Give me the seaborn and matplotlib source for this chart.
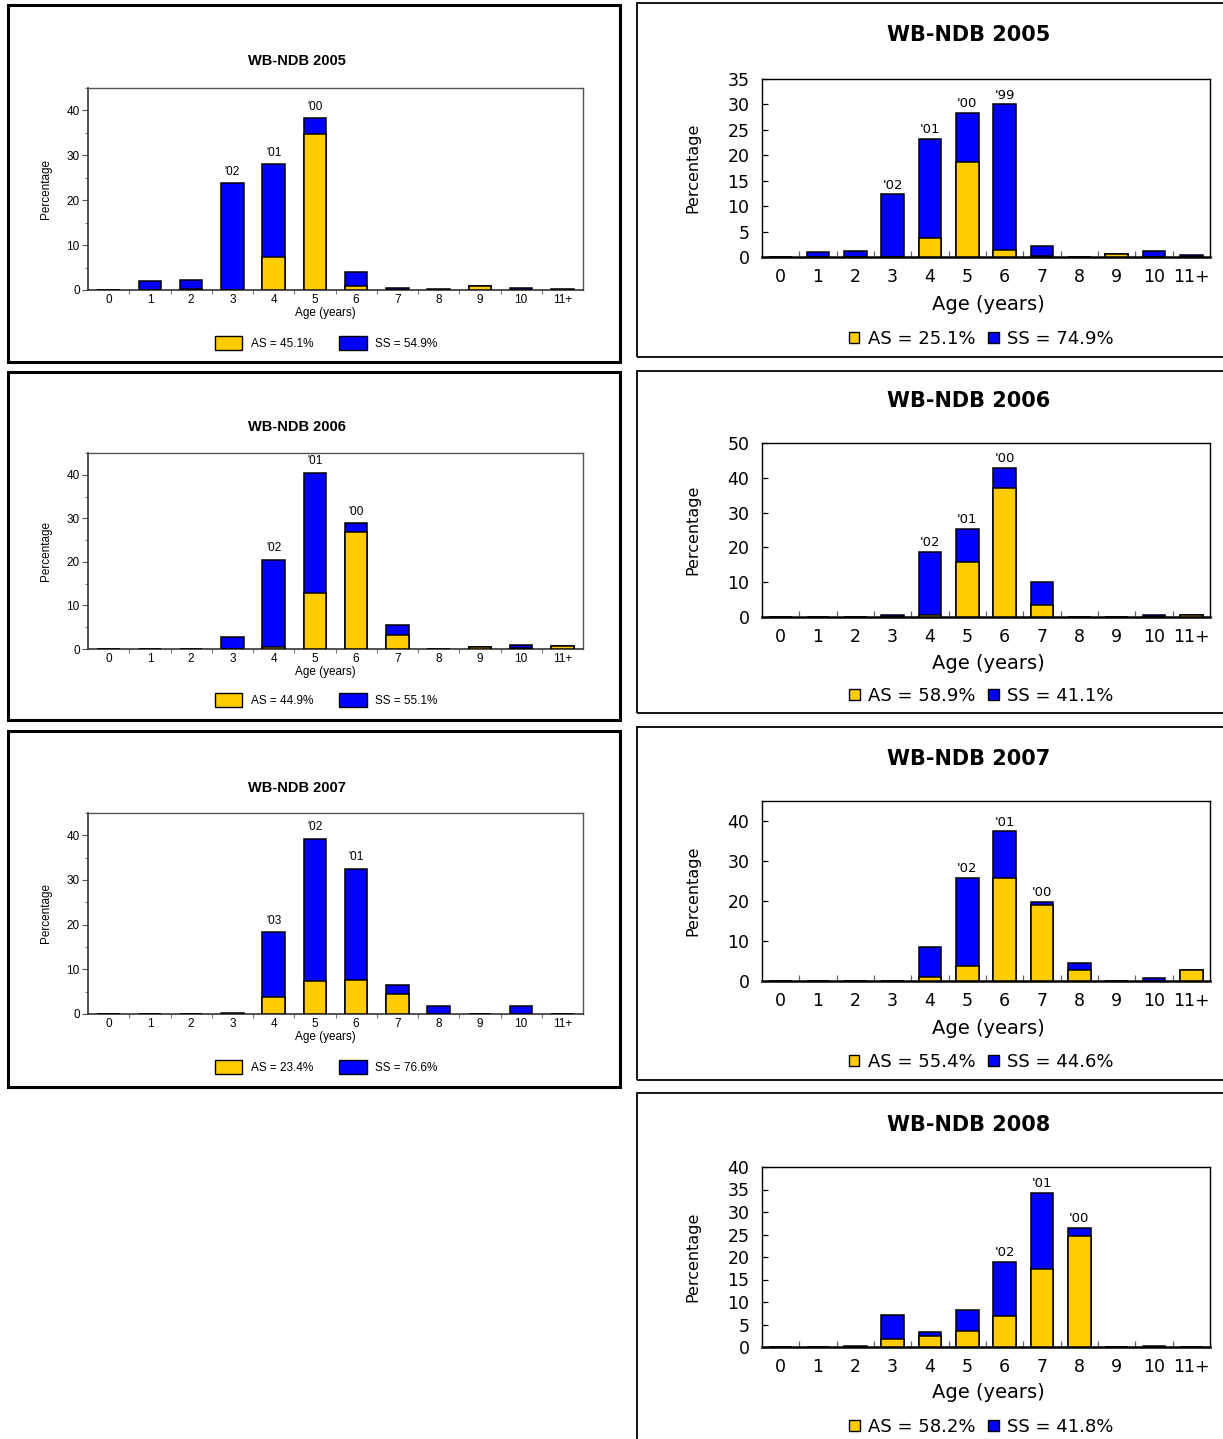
import numpy as np
import pandas as pd
import matplotlib
matplotlib.use("Agg")
import matplotlib.pyplot as plt
from matplotlib.patches import Patch, Rectangle
from matplotlib.ticker import MultipleLocator, FixedLocator
import seaborn as sns

sns.set_style("ticks")
plt.rcParams["font.family"] = ["Liberation Sans", "DejaVu Sans"]
plt.rcParams.update({"text.color": "black", "axes.labelcolor": "black",
                     "xtick.color": "black", "ytick.color": "black",
                     "xtick.labelcolor": "black", "ytick.labelcolor": "black"})

ages = ["0", "1", "2", "3", "4", "5", "6", "7", "8", "9", "10", "11+"]

# ---- left column: WB-NDB age compositions (AS / SS percentages by age) ----
as_a05 = [0, 0, 0.2, 0, 7.4, 34.8, 1.0, 0, 0, 0.8, 0, 0]
ss_a05 = [0, 1.9, 2.1, 23.8, 20.6, 3.5, 3.0, 0.4, 0.2, 0, 0.4, 0.3]
cohort_a05 = {"3": "'02", "4": "'01", "5": "'00"}
share_a05 = (45.1, 54.9)

as_a06 = [0, 0, 0, 0, 0.5, 12.9, 26.8, 3.1, 0, 0.4, 0.3, 0.6]
ss_a06 = [0, 0, 0, 2.7, 20.0, 27.6, 2.1, 2.5, 0, 0, 0.7, 0]
cohort_a06 = {"4": "'02", "5": "'01", "6": "'00"}
share_a06 = (44.9, 55.1)

as_a07 = [0, 0, 0, 0, 3.7, 7.5, 7.7, 4.4, 0, 0, 0, 0]
ss_a07 = [0, 0, 0, 0.2, 14.6, 31.7, 24.8, 2.0, 1.8, 0, 1.8, 0]
cohort_a07 = {"4": "'03", "5": "'02", "6": "'01"}
share_a07 = (23.4, 76.6)

# ---- right column ----
as_b05 = [0, 0, 0, 0, 3.8, 18.7, 1.3, 0.2, 0, 0.6, 0, 0]
ss_b05 = [0, 0.9, 1.1, 12.3, 19.4, 9.6, 28.7, 2.0, 0, 0, 1.1, 0.3]
cohort_b05 = {"3": "'02", "4": "'01", "5": "'00", "6": "'99"}
share_b05 = (25.1, 74.9)

as_b06 = [0, 0, 0, 0, 0.5, 15.8, 37.2, 3.4, 0, 0, 0, 0.7]
ss_b06 = [0, 0, 0, 0.7, 18.2, 9.6, 5.7, 6.8, 0, 0, 0.7, 0]
cohort_b06 = {"4": "'02", "5": "'01", "6": "'00"}
share_b06 = (58.9, 41.1)

as_b07 = [0, 0, 0, 0, 0.9, 3.8, 25.8, 19.0, 2.8, 0, 0, 2.8]
ss_b07 = [0, 0, 0, 0, 7.6, 22.0, 11.6, 0.8, 1.8, 0, 0.7, 0]
cohort_b07 = {"5": "'02", "6": "'01", "7": "'00"}
share_b07 = (55.4, 44.6)

as_b08 = [0, 0, 0, 1.8, 2.4, 3.6, 7.0, 17.3, 24.7, 0, 0, 0]
ss_b08 = [0, 0, 0.3, 5.3, 1.0, 4.7, 11.9, 16.9, 1.7, 0, 0.3, 0]
cohort_b08 = {"6": "'02", "7": "'01", "8": "'00"}
share_b08 = (58.2, 41.8)

YELLOW = "#FFCC00"
BLUE = "#0000FF"

W, H = 1223, 1439
fig = plt.figure(figsize=(W / 100, H / 100), dpi=100)


def fig_rect(x0, y0, x1, y1):
    return [x0 / W, 1 - y1 / H, (x1 - x0) / W, (y1 - y0) / H]


def frame(x0, y0, x1, y1, lw):
    fig.add_artist(Rectangle((x0 / W, 1 - y1 / H), (x1 - x0) / W, (y1 - y0) / H,
                             transform=fig.transFigure, fill=False,
                             edgecolor="black", linewidth=lw))


# style sets for the two columns
LEFT = dict(family="Liberation Sans", tick=8.5, title=10.5, label=8.5, ylabel=8.5,
            legend=8.5, cohort=8.5, bw=0.55, blw=1.1, ax_x=(88, 583), title_x=297,
            xlabel_x=325, ylabel_x=46, legend_x=326, frame_x=(8, 620), frame_lw=2.2,
            handle=(2.35, 1.5), htpad=0.7, colsp=2.2)
RIGHT = dict(family="DejaVu Sans", tick=12.5, title=15, label=14, ylabel=11.5,
             legend=13, cohort=9.5, bw=0.61, blw=1.1, ax_x=(762, 1210), title_x=969,
             xlabel_x=988, ylabel_x=693, legend_x=981, frame_x=(637, 1230), frame_lw=1.3,
             handle=(0.6, 0.6), htpad=0.45, colsp=0.7)


def draw_panel(style, title, as_vals, ss_vals, cohorts, share, box_y, ax_y,
               ymax, ystep, title_y, xlabel_y, legend_y):
    s = style
    frame(s["frame_x"][0], box_y[0], s["frame_x"][1], box_y[1], s["frame_lw"])
    ax = fig.add_axes(fig_rect(s["ax_x"][0], ax_y[0], s["ax_x"][1], ax_y[1]))
    total = [a + b for a, b in zip(as_vals, ss_vals)]
    df = pd.DataFrame({"age": ages, "total": total, "AS": as_vals})
    sns.barplot(data=df, x="age", y="total", color=BLUE, saturation=1,
                width=s["bw"], edgecolor="black", linewidth=s["blw"],
                errorbar=None, ax=ax, zorder=2)
    sns.barplot(data=df, x="age", y="AS", color=YELLOW, saturation=1,
                width=s["bw"], edgecolor="black", linewidth=s["blw"],
                errorbar=None, ax=ax, zorder=3)
    ax.set_xlim(-0.5, 11.5)
    ax.set_ylim(0, ymax)
    ax.yaxis.set_major_locator(MultipleLocator(ystep))
    ax.xaxis.set_minor_locator(FixedLocator(np.arange(0.5, 11, 1)))
    fam = s["family"]
    for lab in ax.get_xticklabels() + ax.get_yticklabels():
        lab.set_fontfamily(fam)
        lab.set_fontsize(s["tick"])
        lab.set_color("black")

    left_side = style is LEFT
    if left_side:
        ax.yaxis.set_minor_locator(MultipleLocator(5))
        ax.tick_params(axis="y", which="major", direction="out", length=4,
                       width=0.8, pad=2, color="#555555")
        ax.tick_params(axis="y", which="minor", direction="out", length=2.5,
                       width=0.8, color="#777777")
        ax.tick_params(axis="x", which="major", length=0, pad=3)
        ax.tick_params(axis="x", which="minor", direction="out", length=3,
                       width=0.8, color="#777777")
        for side in ["top", "right"]:
            ax.spines[side].set_color("#555555")
            ax.spines[side].set_linewidth(1.0)
        for side in ["left", "bottom"]:
            ax.spines[side].set_color("#333333")
            ax.spines[side].set_linewidth(1.2)
    else:
        ax.tick_params(axis="y", which="major", direction="in", length=4,
                       width=0.9, pad=9)
        ax.tick_params(axis="x", which="major", length=0, pad=8)
        ax.tick_params(axis="x", which="minor", direction="in", length=4,
                       width=0.9, color="#666666")
        for side in ["top", "right", "left"]:
            ax.spines[side].set_color("black")
            ax.spines[side].set_linewidth(1.0)
        ax.spines["bottom"].set_color("black")
        ax.spines["bottom"].set_linewidth(1.8)

    # axis labels
    ax.set_xlabel("Age (years)", fontsize=s["label"], fontfamily=fam, va="center")
    ax.set_ylabel("Percentage", fontsize=s["ylabel"], fontfamily=fam,
                  va="center", ha="center")
    x0, x1 = s["ax_x"]
    ax.xaxis.set_label_coords((s["xlabel_x"] - x0) / (x1 - x0),
                              (ax_y[1] - xlabel_y) / (ax_y[1] - ax_y[0]))
    ax.yaxis.set_label_coords((s["ylabel_x"] - x0) / (x1 - x0), 0.5)

    # cohort year annotations above the bars
    for key, text in cohorts.items():
        i = ages.index(key)
        ax.annotate(text, xy=(i, total[i]), xytext=(0, 4 if left_side else 2),
                    textcoords="offset points", ha="center", va="bottom",
                    fontsize=s["cohort"], fontfamily=fam)

    fig.text(s["title_x"] / W, 1 - title_y / H, title, ha="center", va="center",
             fontsize=s["title"], fontweight="bold", fontfamily=fam)

    handles = [Patch(facecolor=YELLOW, edgecolor="black", linewidth=1.0,
                     label=f"AS = {share[0]:.1f}%"),
               Patch(facecolor=BLUE, edgecolor="black", linewidth=1.0,
                     label=f"SS = {share[1]:.1f}%")]
    fig.legend(handles=handles, loc="center",
               bbox_to_anchor=(s["legend_x"] / W, 1 - legend_y / H), ncol=2,
               frameon=False, prop={"family": fam, "size": s["legend"]},
               handlelength=s["handle"][0], handleheight=s["handle"][1],
               handletextpad=s["htpad"], columnspacing=s["colsp"], borderpad=0,
               borderaxespad=0)
    return ax


# left column
draw_panel(LEFT, "WB-NDB 2005", as_a05, ss_a05, cohort_a05, share_a05,
           box_y=(5, 362), ax_y=(88, 290), ymax=45, ystep=10,
           title_y=61, xlabel_y=313, legend_y=343)
draw_panel(LEFT, "WB-NDB 2006", as_a06, ss_a06, cohort_a06, share_a06,
           box_y=(372, 720), ax_y=(453, 649), ymax=45, ystep=10,
           title_y=427, xlabel_y=672, legend_y=700)
draw_panel(LEFT, "WB-NDB 2007", as_a07, ss_a07, cohort_a07, share_a07,
           box_y=(731, 1087), ax_y=(813, 1014), ymax=45, ystep=10,
           title_y=788, xlabel_y=1037, legend_y=1067)

# right column
draw_panel(RIGHT, "WB-NDB 2005", as_b05, ss_b05, cohort_b05, share_b05,
           box_y=(3, 357), ax_y=(79, 257), ymax=35, ystep=5,
           title_y=35, xlabel_y=304, legend_y=339)
draw_panel(RIGHT, "WB-NDB 2006", as_b06, ss_b06, cohort_b06, share_b06,
           box_y=(371, 713), ax_y=(443, 617), ymax=50, ystep=10,
           title_y=401, xlabel_y=663, legend_y=696)
draw_panel(RIGHT, "WB-NDB 2007", as_b07, ss_b07, cohort_b07, share_b07,
           box_y=(727, 1080), ax_y=(801, 981), ymax=45, ystep=10,
           title_y=759, xlabel_y=1028, legend_y=1062)
draw_panel(RIGHT, "WB-NDB 2008", as_b08, ss_b08, cohort_b08, share_b08,
           box_y=(1093, 1450), ax_y=(1167, 1347), ymax=40, ystep=5,
           title_y=1125, xlabel_y=1393, legend_y=1427)

fig.savefig("out.png", dpi=100, facecolor="white")
